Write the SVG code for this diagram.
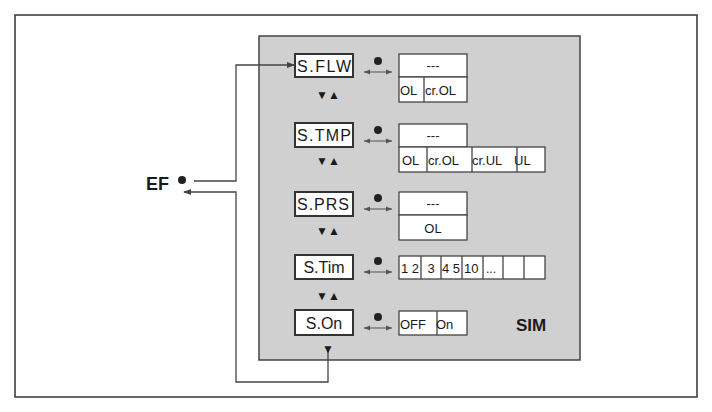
<svg xmlns="http://www.w3.org/2000/svg" width="712" height="412" viewBox="0 0 712 412">
<style>
text{font-family:"Liberation Sans",Arial,sans-serif;fill:#1a1a1a}
.k{fill:#fff;stroke:#333;stroke-width:2}
.v{fill:#fff;stroke:#444;stroke-width:1.3}
.l{fill:none;stroke:#444;stroke-width:1.3}
.t{font-size:16px}
.s{font-size:13px}
.a{font-size:12px}
</style>
<defs>
<marker id="ar" markerWidth="8" markerHeight="6" refX="7" refY="3" orient="auto" markerUnits="userSpaceOnUse"><path d="M0,0L8,3L0,6z" fill="#444"/></marker>
<marker id="ar0" markerWidth="6" markerHeight="6" refX="6" refY="3" orient="auto-start-reverse" markerUnits="userSpaceOnUse"><path d="M0,0.5L6,3L0,5.5z" fill="#555"/></marker>
<g id="sel"><circle cx="0" cy="0" r="4" fill="#222"/><line x1="-14" y1="11" x2="14" y2="11" stroke="#666" stroke-width="1.2" marker-start="url(#ar0)" marker-end="url(#ar0)"/></g>
</defs>
<rect x="15" y="15" width="682" height="382" fill="#fff" stroke="#333" stroke-width="1.5"/>
<rect x="259" y="36" width="321" height="324" fill="#d0d0d0" stroke="#444" stroke-width="1.5"/>
<g id="connectors">
<polyline class="l" points="194,181 236,181 236,65 294,65" marker-end="url(#ar)"/>
<polyline class="l" points="328,350 328,382 236,382 236,192 184,192" marker-end="url(#ar)"/>
</g>
<g id="EF"><text x="146" y="190" font-size="18" font-weight="bold">EF</text><circle cx="182" cy="180" r="4" fill="#222"/></g>
<text x="516" y="331" font-size="17" font-weight="bold">SIM</text>
<g id="SFLW"><rect class="k" x="295" y="54" width="58" height="23"/><text class="t" x="297" y="72" textLength="54">S.FLW</text>
<text class="a" x="328" y="99" text-anchor="middle">▼▲</text>
<use href="#sel" x="378" y="61"/>
<rect class="v" x="399" y="54" width="68" height="23"/><text class="s" x="433" y="70" text-anchor="middle">---</text>
<rect class="v" x="399" y="77" width="68" height="25"/><line class="l" x1="424" y1="77" x2="424" y2="102"/>
<text class="s" x="400" y="95">OL</text><text class="s" x="425" y="95">cr.OL</text></g>
<g id="STMP"><rect class="k" x="295" y="123" width="58" height="24"/><text class="t" x="297" y="141" textLength="54">S.TMP</text>
<text class="a" x="328" y="165" text-anchor="middle">▼▲</text>
<use href="#sel" x="378" y="130"/>
<rect class="v" x="399" y="124" width="68" height="23"/><text class="s" x="433" y="140" text-anchor="middle">---</text>
<rect class="v" x="399" y="147" width="146" height="25"/>
<line class="l" x1="427" y1="147" x2="427" y2="172"/><line class="l" x1="472" y1="147" x2="472" y2="172"/><line class="l" x1="517" y1="147" x2="517" y2="172"/>
<text class="s" x="402" y="165">OL</text><text class="s" x="428" y="165">cr.OL</text><text class="s" x="472" y="165">cr.UL</text><text class="s" x="514" y="165">UL</text></g>
<g id="SPRS"><rect class="k" x="295" y="192" width="58" height="24"/><text class="t" x="297" y="210" textLength="52">S.PRS</text>
<text class="a" x="328" y="235" text-anchor="middle">▼▲</text>
<use href="#sel" x="378" y="198"/>
<rect class="v" x="399" y="192" width="68" height="23"/><text class="s" x="433" y="208" text-anchor="middle">---</text>
<rect class="v" x="399" y="215" width="68" height="25"/><text class="s" x="433" y="233" text-anchor="middle">OL</text></g>
<g id="STim"><rect class="k" x="295" y="255" width="58" height="24"/><text class="t" x="324" y="273" text-anchor="middle">S.Tim</text>
<text class="a" x="328" y="300" text-anchor="middle">▼▲</text>
<use href="#sel" x="378" y="261"/>
<rect class="v" x="399" y="256" width="146" height="23"/>
<line class="l" x1="421" y1="256" x2="421" y2="279"/><line class="l" x1="441" y1="256" x2="441" y2="279"/><line class="l" x1="462" y1="256" x2="462" y2="279"/><line class="l" x1="483" y1="256" x2="483" y2="279"/><line class="l" x1="503" y1="256" x2="503" y2="279"/><line class="l" x1="524" y1="256" x2="524" y2="279"/>
<text class="s" x="401" y="273">1 2</text><text class="s" x="431" y="273" text-anchor="middle">3</text><text class="s" x="442" y="273">4 5</text><text class="s" x="464" y="273">10</text><text class="a" x="486" y="273">...</text></g>
<g id="SOn"><rect class="k" x="295" y="310" width="58" height="25"/><text class="t" x="324" y="329" text-anchor="middle">S.On</text>
<text class="a" x="328" y="353" text-anchor="middle">▼</text>
<use href="#sel" x="378" y="317"/>
<rect class="v" x="399" y="311" width="68" height="24"/><line class="l" x1="437" y1="311" x2="437" y2="335"/>
<text class="s" x="400" y="329">OFF</text><text class="s" x="436" y="329">On</text></g>
</svg>
